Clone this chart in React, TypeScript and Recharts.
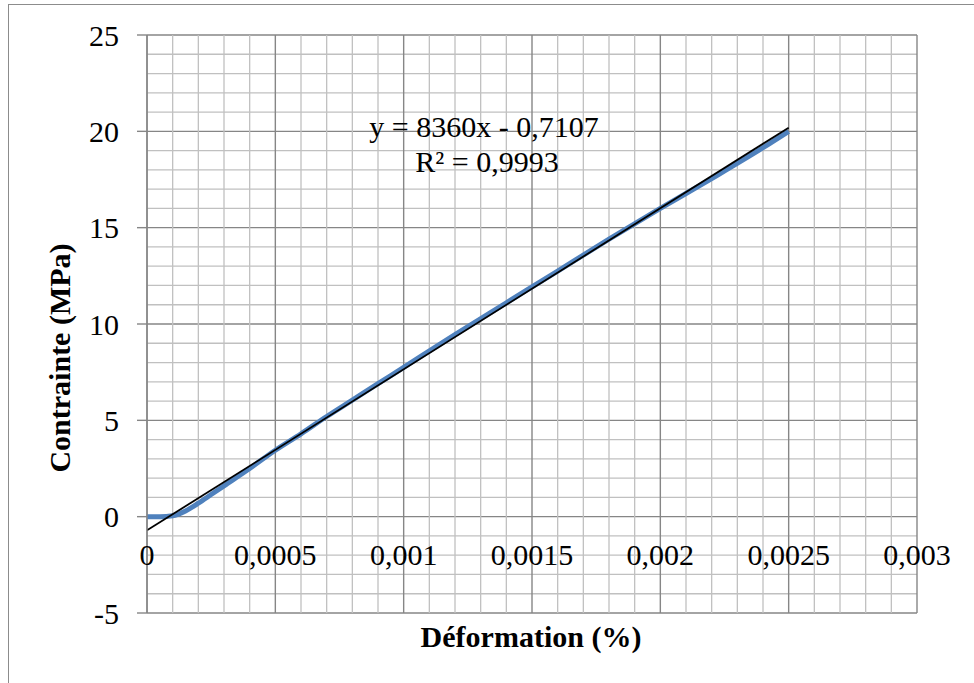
import React from "react";
import {
  CartesianGrid,
  ComposedChart,
  Line,
  XAxis,
  YAxis,
} from "recharts";

// mesures (déformation en %, contrainte en MPa)
const strain = [
  0, 0.00005, 0.0001, 0.00015, 0.0002, 0.00025, 0.0003, 0.0004, 0.0005,
  0.0006, 0.0007, 0.0008, 0.0009, 0.001, 0.0012, 0.0014, 0.0016, 0.0018,
  0.002, 0.0022, 0.0024, 0.0025,
];
const stress = [
  0, 0, 0.05, 0.3, 0.7, 1.15, 1.6, 2.5, 3.45, 4.3, 5.2, 6.05, 6.9, 7.75,
  9.45, 11.1, 12.75, 14.4, 16.0, 17.55, 19.15, 20.0,
];

// courbe de tendance linéaire (y = 8360x - 0,7107)
const trendStrain = [0, 0.0025];
const trendStress = [-0.71, 20.19];

const xTicks = [0, 0.0005, 0.001, 0.0015, 0.002, 0.0025, 0.003];
const xTickLabels = ["0", "0,0005", "0,001", "0,0015", "0,002", "0,0025", "0,003"];
const yTicks = [-5, 0, 5, 10, 15, 20, 25];

// quadrillage principal + secondaire
const xGrid = [
  0, 0.0001, 0.0002, 0.0003, 0.0004, 0.0005, 0.0006, 0.0007, 0.0008, 0.0009,
  0.001, 0.0011, 0.0012, 0.0013, 0.0014, 0.0015, 0.0016, 0.0017, 0.0018,
  0.0019, 0.002, 0.0021, 0.0022, 0.0023, 0.0024, 0.0025, 0.0026, 0.0027,
  0.0028, 0.0029, 0.003,
];
const yGrid = [
  -5, -4, -3, -2, -1, 0, 1, 2, 3, 4, 5, 6, 7, 8, 9, 10, 11, 12, 13, 14, 15,
  16, 17, 18, 19, 20, 21, 22, 23, 24, 25,
];

const equation = "y = 8360x - 0,7107";
const rSquared = "R² = 0,9993";

const measured = strain.map((x, i) => ({ x, y: stress[i] }));
const trend = trendStrain.map((x, i) => ({ x, y: trendStress[i] }));

const FONT = '"Liberation Serif", "Times New Roman", serif';
const MINOR = "#c0c0c0";
const MAJOR = "#868686";

const gridLine = (values: number[], majors: number[]) => (props: any) => {
  const { x1, y1, x2, y2, index } = props;
  const major = majors.includes(values[index]);
  return (
    <line
      key={`g-${index}-${x1}-${y1}`}
      x1={x1}
      y1={y1}
      x2={x2}
      y2={y2}
      stroke={major ? MAJOR : MINOR}
      strokeWidth={major ? 1.4 : 1.3}
      fill="none"
    />
  );
};

const XTick = (props: any) => {
  const { x, payload } = props;
  const label = xTickLabels[xTicks.indexOf(payload.value)];
  return (
    <text
      x={x}
      y={565}
      textAnchor="middle"
      fontFamily={FONT}
      fontSize={30}
      fill="#000"
    >
      {label}
    </text>
  );
};

export default function App() {
  return (
    <div
      style={{
        position: "fixed",
        left: 0,
        top: 0,
        width: 974,
        height: 683,
        overflow: "hidden",
        background: "#fff",
      }}
    >
      <div
        style={{
          position: "absolute",
          left: 8,
          top: 4,
          width: 1000,
          height: 720,
          border: "1px solid #8c8c8c",
        }}
      />
      <div style={{ position: "absolute", left: 0, top: 0 }}>
        <ComposedChart
          width={974}
          height={683}
          margin={{ top: 35, right: 57, left: 87, bottom: 40 }}
        >
          <CartesianGrid
            verticalValues={xGrid}
            horizontalValues={yGrid}
            vertical={gridLine(xGrid, xTicks)}
            horizontal={gridLine(yGrid, yTicks)}
          />
          <XAxis
            type="number"
            dataKey="x"
            domain={[0, 0.003]}
            ticks={xTicks}
            interval={0}
            height={30}
            axisLine={false}
            tickLine={false}
            tick={<XTick />}
            allowDataOverflow
          />
          <YAxis
            type="number"
            dataKey="y"
            domain={[-5, 25]}
            ticks={yTicks}
            interval={0}
            width={60}
            axisLine={{ stroke: MAJOR, strokeWidth: 1.4 }}
            tickLine={{ stroke: MAJOR, strokeWidth: 1.4 }}
            tickSize={10}
            tickMargin={18}
            tick={{ fontFamily: FONT, fontSize: 30, fill: "#000" }}
            allowDataOverflow
          />
          <Line
            data={measured}
            dataKey="y"
            type="monotone"
            stroke="#4f81bd"
            strokeWidth={5}
            dot={false}
            isAnimationActive={false}
          />
          <Line
            data={trend}
            dataKey="y"
            type="linear"
            stroke="#000"
            strokeWidth={1.8}
            dot={false}
            isAnimationActive={false}
          />
        </ComposedChart>
      </div>
      <svg
        width={974}
        height={683}
        style={{ position: "absolute", left: 0, top: 0, pointerEvents: "none" }}
      >
        <text
          x={484}
          y={137}
          textAnchor="middle"
          fontFamily={FONT}
          fontSize={30}
        >
          {equation}
        </text>
        <text
          x={487}
          y={172}
          textAnchor="middle"
          fontFamily={FONT}
          fontSize={30}
        >
          {rSquared}
        </text>
        <text
          x={531}
          y={647}
          textAnchor="middle"
          fontFamily={FONT}
          fontSize={30}
          fontWeight="bold"
        >
          Déformation (%)
        </text>
        <text
          x={70}
          y={358}
          textAnchor="middle"
          fontFamily={FONT}
          fontSize={30}
          fontWeight="bold"
          transform="rotate(-90 70 358)"
        >
          Contrainte (MPa)
        </text>
      </svg>
    </div>
  );
}
